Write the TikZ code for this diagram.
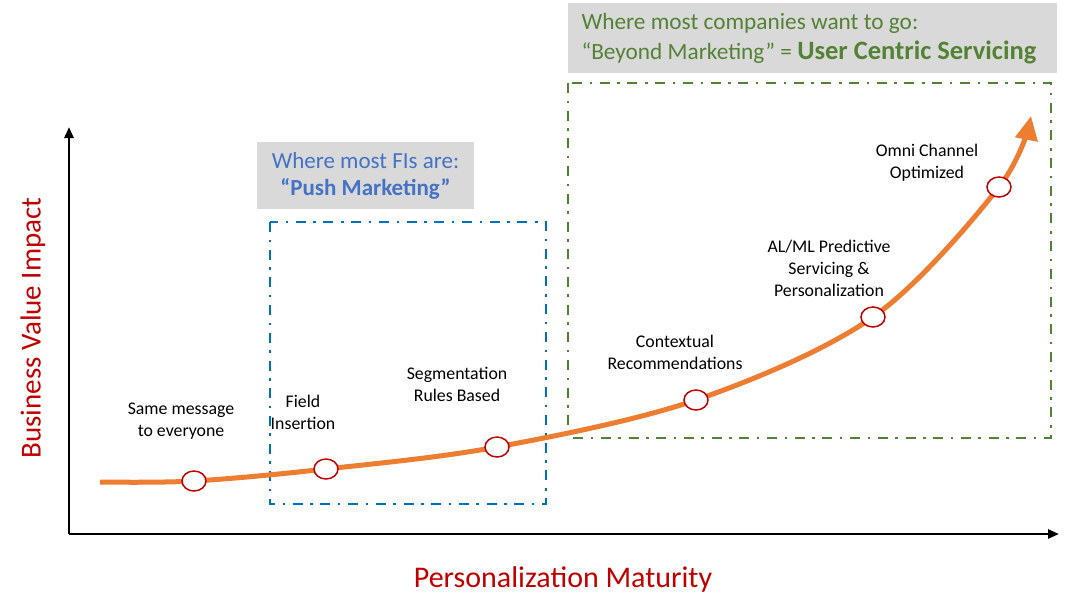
\documentclass[tikz,border=0pt]{standalone}
\usepackage{fontspec}
\setmainfont{Carlito}
\usetikzlibrary{arrows.meta,shapes.geometric}
\definecolor{axred}{HTML}{C00000}
\definecolor{curveor}{HTML}{ED7D31}
\definecolor{boxblue}{HTML}{0070C0}
\definecolor{txtblue}{HTML}{4472C4}
\definecolor{boxgreen}{HTML}{548235}
\definecolor{lblgray}{HTML}{D9D9D9}
\tikzset{
  dot/.style={ellipse, draw=axred, line width=1.5pt, fill=white, minimum width=24pt, minimum height=20pt, inner sep=0pt},
  lbl/.style={align=center, font=\fontsize{17.8}{22}\selectfont, text=black},
  dashdotbox/.style={line width=2.4pt, dash pattern=on 10pt off 7.5pt on 2.5pt off 7.7pt},
  graylbl/.style={fill=lblgray, draw=none}
}
\begin{document}
\begin{tikzpicture}[x=1pt,y=-1pt]
\useasboundingbox (0,0) rectangle (1068,614);
% axes
\coordinate (o) at (69,534);
\coordinate (ytop) at (69,127);
\coordinate (xend) at (1059,534);
\draw[line width=2.5pt,-{Triangle[length=11pt,width=9pt]}] (o) -- (ytop);
\draw[line width=2.5pt,-{Triangle[length=11pt,width=9pt]}] (o) -- (xend);
\node[rotate=90, text=axred, font=\fontsize{29}{34}\selectfont] (ylab) at (33,328) {Business Value Impact};
\node[text=axred, font=\fontsize{30}{36}\selectfont] (xlab) at (563,579) {Personalization Maturity};
% boxes
\draw[dashdotbox, draw=boxblue] (270,222) rectangle (546,504);
\draw[dashdotbox, draw=boxgreen] (568,83) rectangle (1051,438);
% gray labels
\node[graylbl, minimum width=217pt, minimum height=67pt, inner sep=0pt] (bluelbl) at (365.5,175.5) {};
\node[text=txtblue, font=\fontsize{23}{27}\selectfont, align=center] at (bluelbl) {Where most FIs are:\\\textbf{“Push Marketing”}};
\node[graylbl, minimum width=489pt, minimum height=70pt, inner sep=0pt] (greenlbl) at (812.5,38) {};
\node[text=boxgreen, font=\fontsize{23.3}{30}\selectfont, align=left, anchor=west] at (578,39) {Where most companies want to go:\\“Beyond Marketing” = {\fontsize{26.5}{30}\selectfont\textbf{User Centric Servicing}}};
% curve
\coordinate (c0) at (100,482);
\coordinate (p1) at (194,481);
\coordinate (p2) at (326,469);
\coordinate (p3) at (497,447);
\coordinate (p4) at (696,400);
\coordinate (p5) at (873,317);
\coordinate (p6) at (999,187);
\coordinate (c7) at (1031,116);
\draw[curveor, line width=5pt, -{Triangle[length=24pt,width=22pt]}] plot[smooth, tension=0.55] coordinates {(c0) (p1) (p2) (p3) (p4) (p5) (p6) (c7)};
\node[dot] (d1) at (p1) {};
\node[dot] (d2) at (p2) {};
\node[dot] (d3) at (p3) {};
\node[dot] (d4) at (p4) {};
\node[dot] (d5) at (p5) {};
\node[dot] (d6) at (p6) {};
% labels
\node[lbl] (l1) at (181,421) {Same message\\to everyone};
\node[lbl] (l2) at (303,412) {Field\\Insertion};
\node[lbl] (l3) at (457,384) {Segmentation\\Rules Based};
\node[lbl] (l4) at (675,352) {Contextual\\Recommendations};
\node[lbl] (l5) at (829,268) {AL/ML Predictive\\Servicing \&\\Personalization};
\node[lbl] (l6) at (927,163) {Omni Channel\\Optimized};
\end{tikzpicture}
\end{document}
